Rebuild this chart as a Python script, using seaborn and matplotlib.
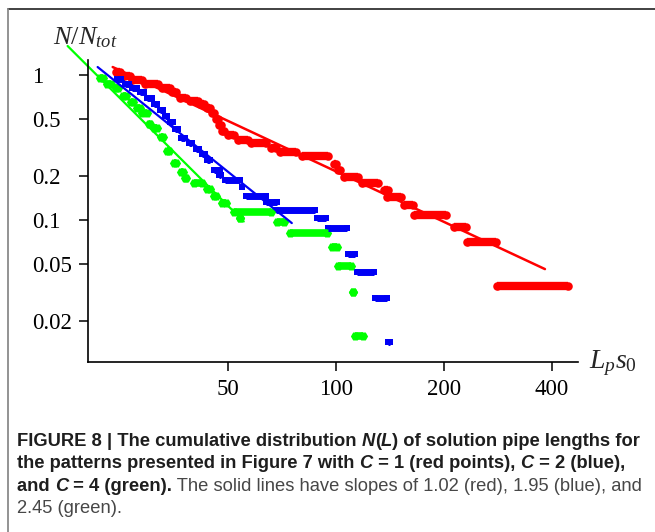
import numpy as np
import pandas as pd
import matplotlib
matplotlib.use('Agg')
import matplotlib.pyplot as plt
import seaborn as sns
from matplotlib.lines import Line2D

# ---------------- data ----------------
red_L0 = [24.4, 25.7, 27.0, 29.4, 32.7, 34.9, 36.7, 39.2, 41.8, 43.7, 45.1, 46.3, 47.2, 48.1, 50.0, 53.3,
          58.2, 66.1, 69.8, 80.4, 98.8, 101.3, 105.3, 118.2, 136.1, 138.7, 154.7, 165.0, 213.3, 231.8, 281.0]
red_L1 = [25.0, 26.7, 28.8, 31.9, 34.5, 35.8, 38.2, 41.3, 42.8, 44.5, 45.7, 46.9, 47.8, 48.7, 51.9, 56.9,
          63.8, 68.0, 77.4, 95.0, 100.0, 102.6, 115.2, 131.0, 139.6, 151.8, 163.8, 202.6, 230.3, 279.2, 443.3]
red_N = [1.05, 0.984, 0.924, 0.867, 0.813, 0.763, 0.694, 0.662, 0.631, 0.592, 0.547, 0.497, 0.452, 0.411, 0.386,
         0.356, 0.340, 0.314, 0.294, 0.276, 0.243, 0.221, 0.198, 0.180, 0.161, 0.144, 0.127, 0.108, 0.0895,
         0.0705, 0.0351]

blue_L0 = [24.5, 25.8, 27.1, 28.4, 29.8, 31.1, 32.3, 33.4, 34.5, 35.6, 37.0, 38.9, 40.7, 42.3, 43.9, 45.7,
           47.2, 49.0, 54.7, 56.1, 63.8, 68.0, 88.5, 95.0, 108.0, 114.4, 128.4, 139.6]
blue_L1 = [25.3, 26.7, 27.9, 29.2, 30.7, 31.7, 33.0, 33.8, 35.1, 36.3, 37.9, 39.7, 41.5, 43.1, 44.5, 47.5,
           47.8, 54.0, 54.7, 63.8, 68.4, 87.4, 93.8, 107.3, 113.0, 127.6, 138.7, 141.4]
blue_N = [0.938, 0.867, 0.813, 0.763, 0.694, 0.631, 0.574, 0.522, 0.474, 0.424, 0.368, 0.340, 0.309, 0.285,
          0.259, 0.221, 0.204, 0.189, 0.169, 0.146, 0.133, 0.117, 0.103, 0.0881, 0.0585, 0.0438, 0.0289, 0.0144]

green_L0 = [22.0, 23.1, 24.4, 25.5, 26.8, 27.9, 28.9, 30.1, 31.1, 32.5, 33.8, 35.4, 37.0, 37.9, 40.2, 43.7,
            45.7, 48.1, 51.9, 54.0, 68.4, 74.4, 97.5, 101.3, 111.5, 113.0]
green_L1 = [22.4, 23.7, 24.8, 26.1, 27.3, 28.4, 29.8, 30.3, 31.7, 33.0, 34.3, 35.8, 37.4, 38.2, 42.3, 44.5,
            46.3, 49.4, 65.8, 54.0, 71.6, 94.4, 100.7, 110.1, 111.5, 118.9]
green_N = [0.953, 0.867, 0.813, 0.717, 0.651, 0.592, 0.547, 0.459, 0.431, 0.374, 0.299, 0.247, 0.214, 0.195,
           0.180, 0.164, 0.146, 0.131, 0.114, 0.103, 0.0969, 0.0813, 0.0652, 0.0481, 0.0319, 0.0159]

fit_red_L = [23.9, 382.4]
fit_red_N = [1.135, 0.0459]
fit_blue_L = [21.7, 75.4]
fit_blue_N = [1.135, 0.0953]
fit_green_L = [17.9, 55.4]
fit_green_N = [1.585, 0.0977]

x_ticks = [50, 100, 200, 400]
x_ticklabels = ['50', '100', '200', '400']
y_ticks = [1, 0.5, 0.2, 0.1, 0.05, 0.02]
y_ticklabels = ['1', '0.5', '0.2', '0.1', '0.05', '0.02']

caption_lines = [
    [("FIGURE 8 | The cumulative distribution ", 'bold', 'normal'), ("N", 'bold', 'italic'),
     ("(", 'bold', 'normal'), ("L", 'bold', 'italic'), (") of solution pipe lengths for", 'bold', 'normal')],
    [("the patterns presented in Figure 7 with ", 'bold', 'normal'), ("C", 'bold', 'italic'),
     (" = 1 (red points), ", 'bold', 'normal'), ("C", 'bold', 'italic'), (" = 2 (blue),", 'bold', 'normal')],
    [("and ", 'bold', 'normal'), ("C", 'bold', 'italic'), (" = 4 (green).", 'bold', 'normal'),
     (" The solid lines have slopes of 1.02 (red), 1.95 (blue), and", 'normal', 'normal')],
    [("2.45 (green).", 'normal', 'normal')],
]

# ---------------- styling ----------------
sns.set_style('white')
plt.rcParams['font.family'] = ['Liberation Serif', 'DejaVu Serif']
plt.rcParams['mathtext.fontset'] = 'custom'
plt.rcParams['mathtext.it'] = 'Liberation Serif:italic'
plt.rcParams['mathtext.rm'] = 'Liberation Serif'

W, H = 655, 532
fig = plt.figure(figsize=(W / 100, H / 100), dpi=100)
ax = fig.add_axes([88 / W, 1 - 362 / H, (578 - 88) / W, (362 - 60) / H])
ax.set_xscale('log')
ax.set_yscale('log')


def seg_frame(L0, L1, N):
    rows = []
    for i, (a, b, n) in enumerate(zip(L0, L1, N)):
        rows.append((i, a, n))
        rows.append((i, b, n))
    return pd.DataFrame(rows, columns=['seg', 'L', 'N'])


series = [
    (red_L0, red_L1, red_N, '#ff0000', 'o', 38, 6.0),
    (blue_L0, blue_L1, blue_N, '#0000f5', 's', 25, 5.0),
    (green_L0, green_L1, green_N, '#00ff00', 'H', 44, 5.5),
]
for L0, L1, N, col, mk, s, lw in series:
    df = seg_frame(L0, L1, N)
    sns.lineplot(data=df, x='L', y='N', units='seg', estimator=None, sort=False, color=col,
                 linewidth=lw, solid_capstyle='butt', ax=ax, legend=False)
    sns.scatterplot(data=df, x='L', y='N', color=col, marker=mk, s=s, linewidth=0, ax=ax, legend=False)

for fl, fn, col, lw in [(fit_red_L, fit_red_N, '#ff0000', 1.8),
                        (fit_blue_L, fit_blue_N, '#0000f5', 1.6),
                        (fit_green_L, fit_green_N, '#00ff00', 1.6)]:
    sns.lineplot(x=fl, y=fn, color=col, linewidth=lw, ax=ax, clip_on=False, legend=False)

ax.set_xlim(20.4, 472.7)
ax.set_ylim(0.0105, 1.269)
ax.set_xticks(x_ticks)
ax.set_xticklabels(x_ticklabels)
ax.set_yticks(y_ticks)
ax.set_yticklabels(y_ticklabels)
ax.minorticks_off()
ax.set_xlabel('')
ax.set_ylabel('')
for sp in ['top', 'right']:
    ax.spines[sp].set_visible(False)
for sp in ['left', 'bottom']:
    ax.spines[sp].set_color('black')
    ax.spines[sp].set_linewidth(1.2)
ax.tick_params(axis='both', which='major', direction='out', length=6.5, width=1.1, color='black',
               labelsize=16.5, labelcolor='black', left=True, bottom=True)
ax.tick_params(axis='y', pad=33.8)
ax.tick_params(axis='x', pad=5.5)
for lab in ax.get_yticklabels():
    lab.set_horizontalalignment('left')
ax.patch.set_alpha(0)

# axis titles
fig.text(53 / W, 1 - 44 / H, r'$N/N_{tot}$', fontsize=19, va='baseline', ha='left')
fig.text(589 / W, 1 - 368 / H, r'$L_p s_0$', fontsize=20, va='baseline', ha='left')

# frame around the figure panel
fig.add_artist(Line2D([8 / W, 1], [1 - 9 / H, 1 - 9 / H], transform=fig.transFigure, color='#333333', lw=1.3))
fig.add_artist(Line2D([8 / W, 8 / W], [1 - 9 / H, 0], transform=fig.transFigure, color='#8a8a8a', lw=1.3))

# caption
cap_family = ['Liberation Sans Narrow', 'Liberation Sans', 'DejaVu Sans']
renderer = fig.canvas.get_renderer()


def text_width(txt, size, weight, style):
    t1 = fig.text(0, 0, txt + 'x', fontsize=size, fontweight=weight, fontstyle=style, family=cap_family)
    t2 = fig.text(0, 0, 'x', fontsize=size, fontweight=weight, fontstyle=style, family=cap_family)
    w = t1.get_window_extent(renderer).width - t2.get_window_extent(renderer).width
    t1.remove()
    t2.remove()
    return w


cap_size = 13.2
baselines = [446, 468, 491, 513]
for runs, yb in zip(caption_lines, baselines):
    x = 17.0
    for txt, weight, style in runs:
        color = '#1e1e1e' if weight == 'bold' else '#474747'
        fig.text(x / W, 1 - yb / H, txt, fontsize=cap_size, fontweight=weight, fontstyle=style,
                 family=cap_family, color=color, va='baseline', ha='left')
        x += text_width(txt, cap_size, weight, style)

fig.savefig('out.png', dpi=100)
